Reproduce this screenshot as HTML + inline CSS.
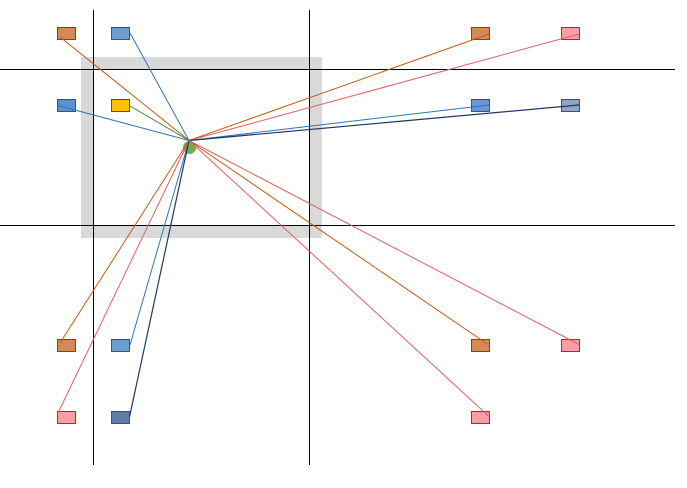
<!DOCTYPE html>
<html>
<head>
<meta charset="utf-8">
<style>
html,body{margin:0;padding:0;background:#fff;width:687px;height:488px;overflow:hidden}
svg{display:block}
</style>
</head>
<body>
<svg width="687" height="488" viewBox="0 0 687 488" xmlns="http://www.w3.org/2000/svg">
<rect width="687" height="488" fill="#fff"/>
<!-- grey frame -->
<path fill-rule="evenodd" fill="#d9d9d9" d="M81 57H322V238H81Z M93 69V225H309V69Z"/>
<!-- grid lines -->
<g stroke="#000" stroke-width="1" fill="none">
<line x1="93.5" y1="10" x2="93.5" y2="465"/>
<line x1="309.5" y1="10" x2="309.5" y2="465"/>
<line x1="0" y1="69.5" x2="675" y2="69.5"/>
<line x1="0" y1="225.5" x2="675" y2="225.5"/>
</g>
<!-- nodes -->
<g stroke="#44507a" stroke-width="1">
<rect x="57.5" y="27.5" width="18" height="12" fill="#d68a53"/>
<rect x="111.5" y="27.5" width="18" height="12" fill="#6c9dd0"/>
<rect x="471.5" y="27.5" width="18" height="12" fill="#d68a53"/>
<rect x="561.5" y="27.5" width="18" height="12" fill="#ff9ca6"/>
<rect x="57.5" y="99.5" width="18" height="12" fill="#5b93d0"/>
<rect x="111.5" y="99.5" width="18" height="12" fill="#ffc000"/>
<rect x="471.5" y="99.5" width="18" height="12" fill="#6f94d6"/>
<rect x="561.5" y="99.5" width="18" height="12" fill="#8ea6c2"/>
<rect x="57.5" y="339.5" width="18" height="12" fill="#d68a53"/>
<rect x="111.5" y="339.5" width="18" height="12" fill="#6c9dd0"/>
<rect x="471.5" y="339.5" width="18" height="12" fill="#d68a53"/>
<rect x="561.5" y="339.5" width="18" height="12" fill="#ff9ca6"/>
<rect x="57.5" y="411.5" width="18" height="12" fill="#ff9ca6"/>
<rect x="111.5" y="411.5" width="18" height="12" fill="#5f7fa6"/>
<rect x="471.5" y="411.5" width="18" height="12" fill="#ff9ca6"/>
</g>
<!-- centre dot -->
<circle cx="189.5" cy="147.5" r="6.5" fill="#70ad47"/>
<!-- connectors -->
<g fill="none" stroke-width="1">
<line x1="189" y1="140.5" x2="60" y2="37" stroke="#c55a11"/>
<line x1="189" y1="140.5" x2="130" y2="33" stroke="#2e75b6"/>
<line x1="189" y1="140.5" x2="58" y2="105.5" stroke="#2e75b6"/>
<line x1="189" y1="140.5" x2="130" y2="106" stroke="#548235"/>
<line x1="189" y1="140.5" x2="489" y2="34" stroke="#c55a11"/>
<line x1="189" y1="140.5" x2="579" y2="34" stroke="#e2625f"/>
<line x1="189" y1="140.5" x2="489" y2="105" stroke="#2e75b6"/>
<line x1="189" y1="140.5" x2="579" y2="105" stroke="#1f3864" stroke-width="1.2"/>
<line x1="189" y1="140.5" x2="60" y2="343" stroke="#c55a11"/>
<line x1="189" y1="140.5" x2="130" y2="345" stroke="#2e75b6"/>
<line x1="189" y1="140.5" x2="58" y2="413" stroke="#e2625f"/>
<line x1="189" y1="140.5" x2="129.5" y2="417" stroke="#1f3864" stroke-width="1.2"/>
<line x1="189" y1="140.5" x2="488" y2="344.5" stroke="#c55a11"/>
<line x1="189" y1="140.5" x2="579" y2="344.5" stroke="#e2625f"/>
<line x1="189" y1="140.5" x2="489" y2="416.5" stroke="#e2625f"/>
</g>
</svg>
</body>
</html>
